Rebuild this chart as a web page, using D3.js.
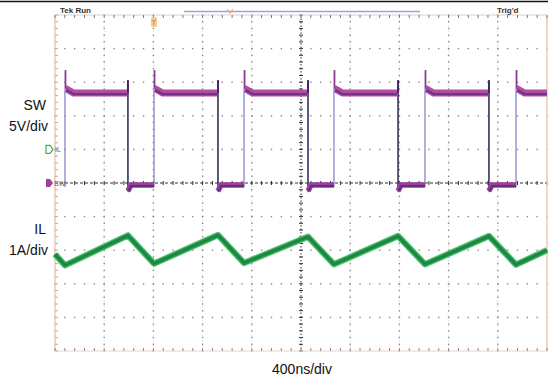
<!DOCTYPE html>
<html><head><meta charset="utf-8">
<script src="https://cdn.jsdelivr.net/npm/d3@7"></script>
<style>
html,body{margin:0;padding:0;background:#fff;}
svg{display:block;}
text{font-family:"Liberation Sans",Arial,sans-serif;}
</style></head>
<body>
<svg id="chart" width="548" height="378"></svg>
<script>
// ---- data (read from the scope capture) ----
const timeDivisions = 10;           // horizontal divisions
const voltDivisions = 10;           // vertical divisions
const nsPerDiv = 400;               // 400ns/div
const swVoltsPerDiv = 5;            // SW 5V/div
const ilAmpsPerDiv = 1;             // IL 1A/div
const ilOffsetDiv = -4;             // IL ground reference (div)
// switching instants (ns)
const swRiseTimes = [81, 805, 1537, 2268, 3008, 3748];
const swFallTimes = [593, 1325, 2057, 2789, 3528];
// SW levels (V)
const swHighV = 13.4;
const swSettleV = 14.0;
const swRiseSpikeV = 16.8;
const swFallSpikeV = 15.3;
const swLowV = -0.3;
const swUndershootV = -1.2;
// inductor current vertices (ns, A)
const ilTimes = [0, 81, 593, 805, 1325, 1537, 2057, 2268, 2789, 3008, 3528, 3748, 4000];
const ilAmps  = [1.88, 1.55, 2.44, 1.60, 2.45, 1.62, 2.40, 1.58, 2.42, 1.58, 2.42, 1.57, 2.0];
// labels
const leftLabels = [["SW", "5V/div"], ["IL", "1A/div"]];
const xLabel = "400ns/div";
const statusLeft = "Tek Run";
const statusRight = "Trig'd";

// ---- layout ----
const svg = d3.select("#chart");
const X0 = 55, X1 = 547, Y0 = 15, Y1 = 351;
const x = d3.scaleLinear().domain([0, timeDivisions * nsPerDiv]).range([X0, X1]);
const y = d3.scaleLinear().domain([-voltDivisions / 2, voltDivisions / 2]).range([Y1, Y0]);
const ySW = v => y(v / swVoltsPerDiv);
const yIL = a => y(a / ilAmpsPerDiv + ilOffsetDiv);

// top black rule
svg.append("line").attr("x1", 0).attr("x2", 548).attr("y1", 1.5).attr("y2", 1.5)
  .attr("stroke", "#111").attr("stroke-width", 1.6);

const g = svg.append("g");
const minorX = d3.range(0, timeDivisions * nsPerDiv + 1, nsPerDiv / 5);
const minorY = d3.range(-voltDivisions / 2, voltDivisions / 2 + 0.001, 0.2);
const majorCols = d3.range(1, timeDivisions).map(i => i * nsPerDiv);
const majorRows = d3.range(-voltDivisions / 2 + 1, voltDivisions / 2);

majorCols.forEach(t => {
  if (t === 2000) return;
  g.append("line").attr("x1", x(t)).attr("x2", x(t)).attr("y1", Y0).attr("y2", Y1)
    .attr("stroke", "#e6e6e6").attr("stroke-width", 1).attr("stroke-dasharray", "2,3");
  minorY.forEach(d => g.append("rect").attr("x", x(t) - 0.7).attr("y", y(d) - 0.7)
    .attr("width", 1.4).attr("height", 1.4).attr("fill", "#888"));
});
majorRows.forEach(d => {
  if (d === 0) return;
  minorX.forEach(t => g.append("rect").attr("x", x(t) - 0.7).attr("y", y(d) - 0.7)
    .attr("width", 1.4).attr("height", 1.4).attr("fill", "#888"));
});
g.append("line").attr("x1", x(2000)).attr("x2", x(2000)).attr("y1", Y0).attr("y2", Y1)
  .attr("stroke", "#555").attr("stroke-width", 1.2).attr("stroke-dasharray", "1.5,2");
g.append("line").attr("x1", X0).attr("x2", X1).attr("y1", y(0)).attr("y2", y(0))
  .attr("stroke", "#333").attr("stroke-width", 1.2).attr("stroke-dasharray", "3,2");
minorY.forEach(d => g.append("line").attr("x1", x(2000) - 2).attr("x2", x(2000) + 2)
  .attr("y1", y(d)).attr("y2", y(d)).attr("stroke", "#333").attr("stroke-width", 1));
minorX.forEach(t => g.append("line").attr("x1", x(t)).attr("x2", x(t))
  .attr("y1", y(0) - 2).attr("y2", y(0) + 2).attr("stroke", "#333").attr("stroke-width", 1));

// borders
g.append("line").attr("x1", X0).attr("x2", X1).attr("y1", Y0).attr("y2", Y0)
  .attr("stroke", "#d8d0cc").attr("stroke-width", 1);
g.append("line").attr("x1", X0).attr("x2", X1).attr("y1", Y1).attr("y2", Y1)
  .attr("stroke", "#f0d2c2").attr("stroke-width", 1.2);
[X0, X1].forEach(px => g.append("line").attr("x1", px).attr("x2", px).attr("y1", Y0).attr("y2", Y1)
  .attr("stroke", "#f1c9b4").attr("stroke-width", 1.5));
minorX.forEach(t => {
  g.append("line").attr("x1", x(t)).attr("x2", x(t)).attr("y1", Y0).attr("y2", Y0 + 3)
    .attr("stroke", "#777").attr("stroke-width", 1);
  g.append("line").attr("x1", x(t)).attr("x2", x(t)).attr("y1", Y1 - 3).attr("y2", Y1)
    .attr("stroke", "#888").attr("stroke-width", 1);
});
minorY.forEach(d => g.append("line").attr("x1", X0).attr("x2", X0 + 3)
  .attr("y1", y(d)).attr("y2", y(d)).attr("stroke", "#c9a89a").attr("stroke-width", 1));

// status bar
svg.append("text").attr("x", 60).attr("y", 13).attr("font-size", 8).attr("font-weight", "bold")
  .attr("fill", "#333").text(statusLeft);
svg.append("text").attr("x", 497).attr("y", 13).attr("font-size", 8).attr("font-weight", "bold")
  .attr("fill", "#333").text(statusRight);
svg.append("line").attr("x1", 184).attr("x2", 420).attr("y1", 11.5).attr("y2", 11.5)
  .attr("stroke", "#98a4d6").attr("stroke-width", 1.6);
svg.append("path").attr("d", "M227,9 L230,13 L233,9").attr("fill", "none")
  .attr("stroke", "#f0a860").attr("stroke-width", 1.2);
svg.append("rect").attr("x", 151).attr("y", 17).attr("width", 6).attr("height", 10).attr("rx", 1.5)
  .attr("fill", "#f7c98a");
svg.append("text").attr("x", 154).attr("y", 25).attr("text-anchor", "middle").attr("font-size", 7)
  .attr("fill", "#d07a20").text("T");

// channel markers
const ilMarkY = y(1);
svg.append("path").attr("d", `M46,${ilMarkY - 4} h4 l3,4 l-3,4 h-4 z`)
  .attr("fill", "#fff").attr("stroke", "#3fae5a").attr("stroke-width", 1.2);
svg.append("text").attr("x", 55).attr("y", ilMarkY + 2.5).attr("font-size", 7).attr("fill", "#666").text("IL");
const swMarkY = y(0);
svg.append("path").attr("d", `M46,${swMarkY - 4} h4 l3,4 l-3,4 h-4 z`).attr("fill", "#a0409a");
svg.append("text").attr("x", 54).attr("y", swMarkY + 2.5).attr("font-size", 7).attr("fill", "#666").text("SW");

// ---- inductor current trace ----
const ilPts = ilTimes.map((t, i) => [x(t), yIL(ilAmps[i])]);
const line = d3.line();
svg.append("path").attr("d", line(ilPts)).attr("fill", "none").attr("stroke", "#6ccb84")
  .attr("stroke-width", 6.5).attr("stroke-linejoin", "round");
svg.append("path").attr("d", line(ilPts)).attr("fill", "none").attr("stroke", "#22964a")
  .attr("stroke-width", 4.5).attr("stroke-linejoin", "round");
svg.append("path").attr("d", line(ilPts)).attr("fill", "none").attr("stroke", "#1c7a3a")
  .attr("stroke-width", 1.4).attr("stroke-linejoin", "round").attr("opacity", 0.8);

// ---- SW trace ----
const sw = svg.append("g");
const tEnd = timeDivisions * nsPerDiv;
const settle = 12, flat = 70, undersh = 25;
swRiseTimes.forEach((tr, i) => {
  const tf = i < swFallTimes.length ? swFallTimes[i] : tEnd;
  const pts = [[x(tr) + 1, ySW(swSettleV)], [x(tr + settle), ySW(swSettleV)],
               [x(Math.min(tr + flat, tf)), ySW(swHighV)],
               [i < swFallTimes.length ? x(tf) - 1 : x(tf), ySW(swHighV)]];
  // rising edge (thin, light) + spike
  sw.append("line").attr("x1", x(tr)).attr("x2", x(tr)).attr("y1", ySW(swUndershootV + 0.6))
    .attr("y2", ySW(swSettleV)).attr("stroke", "#8c86cc").attr("stroke-width", 1.3);
  sw.append("line").attr("x1", x(tr) + 0.5).attr("x2", x(tr) + 0.5).attr("y1", ySW(swSettleV))
    .attr("y2", ySW(swRiseSpikeV)).attr("stroke", "#8a3c92").attr("stroke-width", 1.8);
  sw.append("path").attr("d", line(pts)).attr("fill", "none").attr("stroke", "#b44ca4")
    .attr("stroke-width", 7);
  sw.append("path").attr("d", line(pts.map(p => [p[0], p[1] + 1.2]))).attr("fill", "none")
    .attr("stroke", "#5a2a78").attr("stroke-width", 2.4).attr("opacity", 0.7);
});
swFallTimes.forEach((tf, i) => {
  const tr = swRiseTimes[i + 1];
  sw.append("line").attr("x1", x(tf)).attr("x2", x(tf)).attr("y1", ySW(swHighV))
    .attr("y2", ySW(swFallSpikeV)).attr("stroke", "#8e3a96").attr("stroke-width", 2);
  sw.append("line").attr("x1", x(tf)).attr("x2", x(tf)).attr("y1", ySW(swFallSpikeV))
    .attr("y2", ySW(swUndershootV)).attr("stroke", "#2a2350").attr("stroke-width", 1.5);
  const lpts = [[x(tf), ySW(swUndershootV)], [x(tf + undersh), ySW(swLowV)], [x(tr), ySW(swLowV)]];
  sw.append("path").attr("d", line(lpts)).attr("fill", "none").attr("stroke", "#9c3e9c")
    .attr("stroke-width", 5.5);
  sw.append("path").attr("d", line(lpts.map(p => [p[0], p[1] + 1]))).attr("fill", "none")
    .attr("stroke", "#4b2a72").attr("stroke-width", 2).attr("opacity", 0.7);
});

// ---- labels ----
const lab = svg.append("g").attr("font-size", 14).attr("fill", "#111").attr("text-anchor", "end");
lab.append("text").attr("x", 46).attr("y", 110).text(leftLabels[0][0]);
lab.append("text").attr("x", 48).attr("y", 131).text(leftLabels[0][1]);
lab.append("text").attr("x", 46).attr("y", 234).text(leftLabels[1][0]);
lab.append("text").attr("x", 48).attr("y", 255).text(leftLabels[1][1]);
svg.append("text").attr("x", 302).attr("y", 374).attr("text-anchor", "middle")
  .attr("font-size", 14).attr("fill", "#111").text(xLabel);
</script>
</body></html>
